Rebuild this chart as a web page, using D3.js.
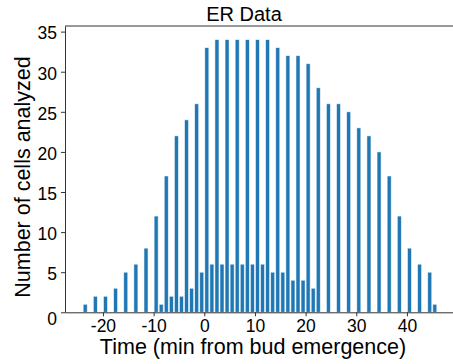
<!DOCTYPE html>
<html>
<head>
<meta charset="utf-8">
<script src="https://cdn.jsdelivr.net/npm/d3@7"></script>
<style>
  body { margin: 0; background: #fff; }
  svg { display: block; font-family: "Liberation Sans", Arial, sans-serif; }
</style>
</head>
<body>
<svg id="chart" width="453" height="364"></svg>
<script>
// bins are 1 min wide, keyed by their left edge
const evenBins = [-24, -22, -20, -18, -16, -14, -12, -10, -8, -6, -4, -2, 0, 2, 4, 6, 8, 10, 12,
    14, 16, 18, 20, 22, 24, 26, 28, 30, 32, 34, 36, 38, 40, 42, 44]
const evenCounts = [1, 2, 2, 3, 5, 6, 8, 12, 17, 22, 24, 26, 33, 34, 34, 34, 34, 34, 34,
    33, 32, 32, 31, 28, 26, 26, 25, 23, 22, 20, 17, 12, 8, 6, 5]
const oddBins = [-9, -7, -5, -3, -1, 1, 3, 5, 7, 9, 11, 13, 15, 17, 19, 21, 45]
const oddCounts = [1, 2, 2, 3, 5, 6, 6, 6, 6, 6, 6, 5, 5, 4, 4, 3, 1]
const xTicks = [-20, -10, 0, 10, 20, 30, 40]
const yTicks = [0, 5, 10, 15, 20, 25, 30, 35]

const bars = [
    ...evenBins.map((t, i) => ({ t, count: evenCounts[i] })),
    ...oddBins.map((t, i) => ({ t, count: oddCounts[i] })),
]

const margin = { top: 26, left: 65, bottom: 312.3, right: 454 }
const x = d3.scaleLinear().domain([-27.49, 49.29]).range([margin.left, margin.right])
const y = d3.scaleLinear().domain([0, 35.7]).range([margin.bottom, margin.top])

const svg = d3.select("#chart")

svg.append("g")
    .selectAll("rect")
    .data(bars)
    .join("rect")
    .attr("x", (d) => x(d.t + 0.1))
    .attr("width", (d) => x(d.t + 0.9) - x(d.t + 0.1))
    .attr("y", (d) => y(d.count))
    .attr("height", (d) => y(0) - y(d.count))
    .attr("fill", "#1f77b4")
    .attr("stroke", "#fff")
    .attr("stroke-opacity", 0.7)
    .attr("stroke-width", 0.8)

// top spine, no right spine in view
svg.append("line")
    .attr("x1", margin.left).attr("x2", margin.right)
    .attr("y1", margin.top).attr("y2", margin.top)
    .attr("stroke", "#333").attr("stroke-width", 1)

const xAxis = svg.append("g")
    .attr("transform", `translate(0, ${margin.bottom})`)
    .call(d3.axisBottom(x).tickValues(xTicks).tickSize(4).tickSizeOuter(0).tickPadding(3))
xAxis.selectAll("text").style("font-size", "17.5px").attr("fill", "#000")

const yAxis = svg.append("g")
    .attr("transform", `translate(${margin.left}, 0)`)
    .call(d3.axisLeft(y).tickValues(yTicks).tickSize(4).tickSizeOuter(0).tickPadding(4))
yAxis.selectAll("text").style("font-size", "17.5px").attr("fill", "#000").attr("dy", "0.42em")
yAxis.selectAll("text").filter((d) => d === 0).attr("dy", "0.68em")

svg.selectAll(".domain, .tick line").attr("stroke", "#333")
svg.selectAll(".tick text").text((d) => d)

svg.append("text")
    .attr("x", 244)
    .attr("y", 21)
    .attr("text-anchor", "middle")
    .style("font-size", "20px")
    .text("ER Data")

svg.append("text")
    .attr("x", 253)
    .attr("y", 354)
    .attr("text-anchor", "middle")
    .style("font-size", "21.5px")
    .text("Time (min from bud emergence)")

svg.append("text")
    .attr("transform", "rotate(-90)")
    .attr("x", -177)
    .attr("y", 30)
    .attr("text-anchor", "middle")
    .style("font-size", "21.5px")
    .text("Number of cells analyzed")
</script>
</body>
</html>
